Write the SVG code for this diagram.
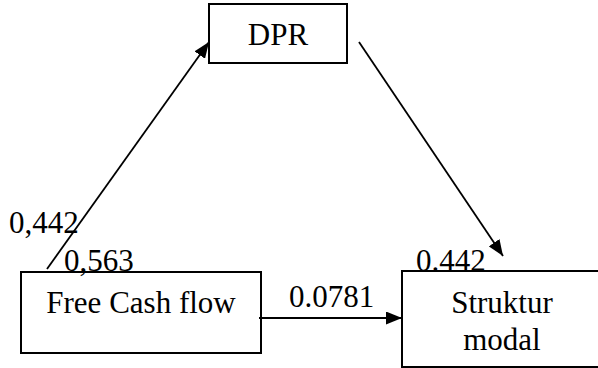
<svg xmlns="http://www.w3.org/2000/svg" width="598" height="368" viewBox="0 0 598 368">
<style>
.box{fill:#fff;stroke:#000;stroke-width:2}
text{font-family:'Liberation Serif','Times New Roman',Times,'DejaVu Serif',serif;font-size:31px;fill:#000}
.c{text-anchor:middle}
.edge{stroke:#000;stroke-width:1.8;fill:none;marker-end:url(#ah)}
</style>
<defs>
<marker id="ah" markerUnits="userSpaceOnUse" markerWidth="16" markerHeight="13" refX="16" refY="6.5" orient="auto">
<path d="M0,0 L16,6.5 L0,13 z" fill="#000"/>
</marker>
</defs>
<rect x="0" y="0" width="598" height="368" fill="#fff"/>
<g id="node-dpr">
<rect class="box" x="209" y="4" width="138" height="59"/>
<text class="c" x="278" y="45" font-family="Liberation Serif, serif">DPR</text>
</g>
<g id="node-fcf">
<rect class="box" x="21" y="272" width="240" height="81"/>
<text class="c" x="141" y="313" font-family="Liberation Serif, serif">Free Cash flow</text>
</g>
<g id="node-struktur">
<rect class="box" x="402" y="271" width="200" height="96"/>
<text class="c" x="502" y="313" font-family="Liberation Serif, serif">Struktur</text>
<text class="c" x="502" y="350" font-family="Liberation Serif, serif">modal</text>
</g>
<g id="connectors">
<line class="edge" x1="47" y1="269" x2="209" y2="42"/>
<line class="edge" x1="359" y1="42" x2="503" y2="256"/>
<line class="edge" x1="259" y1="318" x2="402" y2="318"/>
</g>
<g id="labels">
<text x="9" y="233" font-family="Liberation Serif, serif">0,442</text>
<text x="64" y="271" font-family="Liberation Serif, serif">0,563</text>
<text x="416" y="271" font-family="Liberation Serif, serif">0.442</text>
<text x="289" y="307" font-family="Liberation Serif, serif">0.0781</text>
</g>
</svg>
